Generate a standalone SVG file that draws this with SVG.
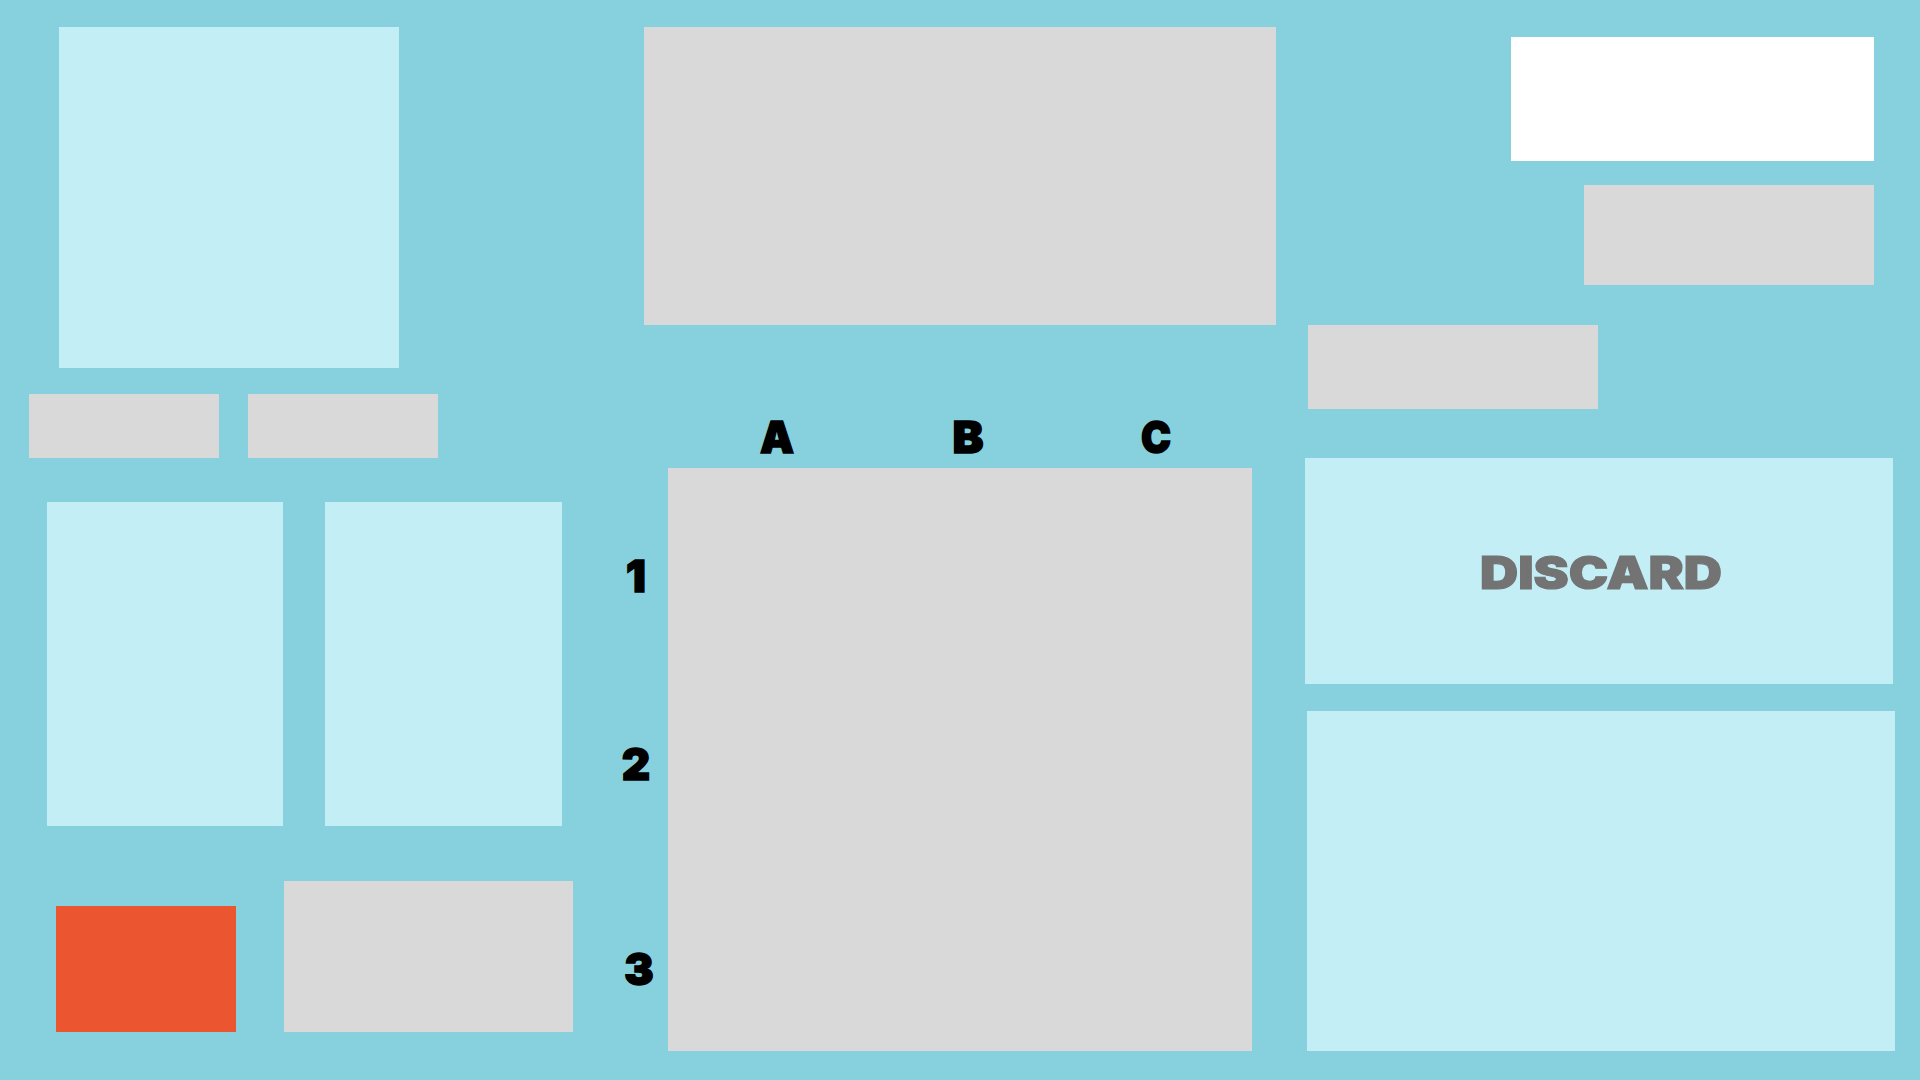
<svg xmlns="http://www.w3.org/2000/svg" width="1920" height="1080" viewBox="0 0 1920 1080">
<style>
.bg{fill:#87d0de}
.light{fill:#c3eef5}
.grey{fill:#d9d9d9}
.white{fill:#ffffff}
.orange{fill:#eb5630}
.lbl{font-family:Inter,"Liberation Sans",sans-serif;font-weight:900;font-size:44px;fill:#000;stroke:#000;stroke-width:1.5;text-anchor:middle}
.discard{font-family:Inter,"Liberation Sans",sans-serif;font-weight:900;font-size:45px;fill:#737373;stroke:#737373;stroke-width:1.2;text-anchor:middle}
</style>
<rect class="bg" x="0" y="0" width="1920" height="1080"/>
<g id="panel-top-left"><rect class="light" x="59" y="27" width="340" height="341"/></g>
<g id="slot-left-1"><rect class="grey" x="29" y="394" width="190" height="64"/></g>
<g id="slot-left-2"><rect class="grey" x="248" y="394" width="190" height="64"/></g>
<g id="card-left-1"><rect class="light" x="47" y="502" width="236" height="324"/></g>
<g id="card-left-2"><rect class="light" x="325" y="502" width="237" height="324"/></g>
<g id="orange-box"><rect class="orange" x="56" y="906" width="180" height="126"/></g>
<g id="grey-bottom-left"><rect class="grey" x="284" y="881" width="289" height="151"/></g>
<g id="top-middle"><rect class="grey" x="644" y="27" width="632" height="298"/></g>
<g id="white-box"><rect class="white" x="1511" y="37" width="363" height="124"/></g>
<g id="grey-right-1"><rect class="grey" x="1584" y="185" width="290" height="100"/></g>
<g id="grey-right-2"><rect class="grey" x="1308" y="325" width="290" height="84"/></g>
<g id="grid"><rect class="grey" x="668" y="468" width="584" height="583"/></g>
<g id="col-labels">
<text class="lbl" x="777" y="453" textLength="34" lengthAdjust="spacingAndGlyphs">A</text>
<text class="lbl" x="968" y="453" textLength="31" lengthAdjust="spacingAndGlyphs">B</text>
<text class="lbl" x="1156" y="453" textLength="30" lengthAdjust="spacingAndGlyphs">C</text>
</g>
<g id="row-labels">
<text class="lbl" x="636" y="592">1</text>
<text class="lbl" x="636" y="780">2</text>
<text class="lbl" x="639" y="985">3</text>
</g>
<g id="discard"><rect class="light" x="1305" y="458" width="588" height="226"/>
<text class="discard" x="1601" y="589" textLength="242" lengthAdjust="spacingAndGlyphs">DISCARD</text></g>
<g id="panel-bottom-right"><rect class="light" x="1307" y="711" width="588" height="340"/></g>
<g id="connectors"></g>
</svg>
